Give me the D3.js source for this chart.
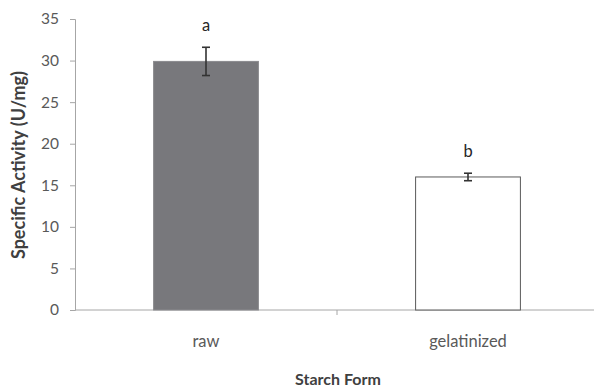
<!DOCTYPE html>
<html>
<head>
<meta charset="utf-8">
<script src="https://cdn.jsdelivr.net/npm/d3@7"></script>
<style>
  body { margin: 0; background: #fff; }
  svg { display: block; font-family: "Lato", "Open Sans", sans-serif; }
</style>
</head>
<body>
<svg id="chart" width="594" height="387"></svg>
<script>
// Specific activity of the enzyme on two starch forms
const categories = ["raw", "gelatinized"];
const values = [29.9, 16.0];
const errors = [1.7, 0.45];
const letters = ["a", "b"];
const yTicks = [0, 5, 10, 15, 20, 25, 30, 35];

const svg = d3.select("#chart");
const plotLeft = 75, plotRight = 599, plotTop = 19, plotBottom = 310;

const x = d3.scaleBand().domain(categories).range([plotLeft, plotRight])
  .paddingInner(0.6).paddingOuter(0.3);
const y = d3.scaleLinear().domain([0, 35]).range([plotBottom, plotTop]);

const axisColor = "#a6a6a6";
const textColor = "#595959";

// y axis
const yAxis = svg.append("g").attr("transform", `translate(${plotLeft},0)`)
  .call(d3.axisLeft(y).tickValues(yTicks).tickSize(5).tickPadding(11));
yAxis.select(".domain").attr("stroke", axisColor);
yAxis.selectAll(".tick line").attr("stroke", axisColor);
yAxis.selectAll(".tick text").attr("fill", textColor)
  .style("font-size", "15.5px").style("font-family", "Lato, sans-serif");

// x axis with ticks at the band boundaries
const step = x.step();
const boundaries = [plotLeft + step, plotLeft + 2 * step];
svg.append("line").attr("x1", plotLeft).attr("x2", plotRight)
  .attr("y1", plotBottom).attr("y2", plotBottom).attr("stroke", axisColor);
svg.selectAll(".xtick").data(boundaries).join("line")
  .attr("x1", d => d).attr("x2", d => d)
  .attr("y1", plotBottom).attr("y2", plotBottom + 5).attr("stroke", axisColor);
svg.selectAll(".xlabel").data(categories).join("text")
  .attr("x", d => x(d) + x.bandwidth() / 2).attr("y", plotBottom + 37)
  .attr("text-anchor", "middle").attr("fill", textColor)
  .style("font-size", "16.5px").text(d => d);

// bars
const fills = ["#78787c", "#ffffff"];
const strokes = ["#8a8a8e", "#595959"];
svg.selectAll(".bar").data(categories).join("rect")
  .attr("x", d => x(d)).attr("width", x.bandwidth())
  .attr("y", (d, i) => y(values[i]))
  .attr("height", (d, i) => y(0) - y(values[i]))
  .attr("fill", (d, i) => fills[i]).attr("stroke", (d, i) => strokes[i])
  .attr("stroke-width", 1);

// error bars
const cx = d => x(d) + x.bandwidth() / 2;
const eb = svg.selectAll(".err").data(categories).join("g")
  .attr("stroke", "#333").attr("stroke-width", 1.6);
eb.append("line")
  .attr("x1", cx).attr("x2", cx)
  .attr("y1", (d, i) => y(values[i] + errors[i])).attr("y2", (d, i) => y(values[i] - errors[i]));
eb.append("line")
  .attr("x1", d => cx(d) - 4).attr("x2", d => cx(d) + 4)
  .attr("y1", (d, i) => y(values[i] + errors[i])).attr("y2", (d, i) => y(values[i] + errors[i]));
eb.append("line")
  .attr("x1", d => cx(d) - 4).attr("x2", d => cx(d) + 4)
  .attr("y1", (d, i) => y(values[i] - errors[i])).attr("y2", (d, i) => y(values[i] - errors[i]));

// significance letters
svg.selectAll(".letter").data(categories).join("text")
  .attr("x", cx)
  .attr("y", (d, i) => y(values[i] + errors[i]) - 16)
  .attr("text-anchor", "middle").attr("fill", "#262626")
  .style("font-size", "16.5px").text((d, i) => letters[i]);

// axis titles
svg.append("text").attr("x", 338).attr("y", 385).attr("text-anchor", "middle")
  .attr("fill", "#404040").style("font-size", "16px").style("font-weight", "bold")
  .text("Starch Form");
svg.append("text").attr("transform", "translate(25,165) rotate(-90)")
  .attr("text-anchor", "middle").attr("fill", "#404040")
  .style("font-size", "18px").style("font-weight", "bold")
  .text("Specific Activity (U/mg)");
</script>
</body>
</html>
